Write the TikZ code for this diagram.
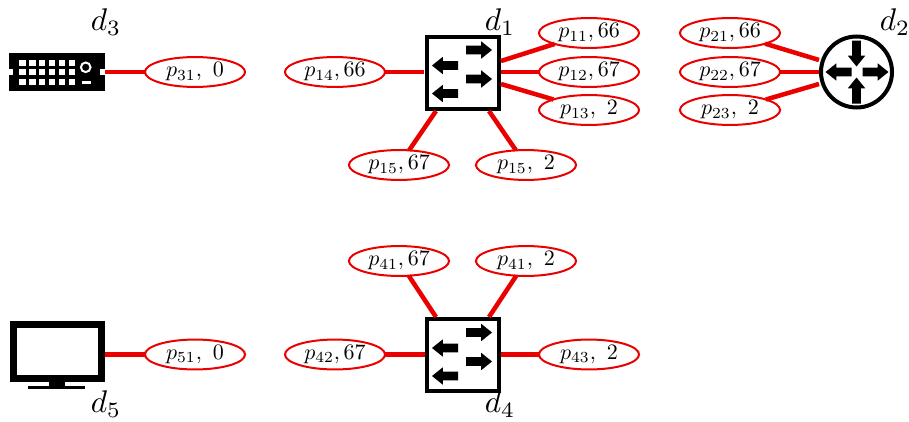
\documentclass[tikz,border=0pt]{standalone}
\usepackage{amsmath}
\usetikzlibrary{shapes.geometric}
\tikzset{blockarrow/.pic={\fill[black] (-13,-4.3)--(2.2,-4.3)--(2.2,-8.7)--(13,0)--(2.2,8.7)--(2.2,4.3)--(-13,4.3)--cycle;}}
\begin{document}
\begin{tikzpicture}[x=0.75pt,y=-0.75pt]
\tikzstyle{port}=[draw=red!92!black,line width=1.5pt,ellipse,inner sep=0pt,outer sep=0pt,scale=1.65,minimum width=45.5pt,minimum height=13.6pt]
\tikzstyle{link}=[draw=red!92!black,line width=3.4pt]
\tikzstyle{devlabel}=[inner sep=0pt,scale=2.35]
\tikzstyle{switchbox}=[draw,line width=3pt,minimum size=54pt,inner sep=0pt]
\useasboundingbox (0,0) rectangle (909,421);
% devices
\node[fill=black,inner sep=0pt,minimum width=72pt,minimum height=28.5pt] (d3) at (57,72) {};
\node[draw,line width=5.2pt,inner sep=0pt,minimum width=66pt,minimum height=40.5pt] (d5) at (57.2,351.5) {};
\node[switchbox] (sw1) at (462.5,72.5) {};
\node[switchbox] (sw4) at (462.5,354.5) {};
\node[draw,circle,line width=3pt,minimum size=53.25pt,inner sep=0pt] (rt2) at (856.5,72) {};
% ports
\node[port] (p31) at (195,72) {$p_{31},\ 0$};
\node[port] (p14) at (335,72) {$p_{14},66$};
\node[port] (p11) at (589,33) {$p_{11},66$};
\node[port] (p12) at (589,72) {$p_{12},67$};
\node[port] (p13) at (589,110) {$p_{13},\ 2$};
\node[port] (p15) at (399,165) {$p_{15},67$};
\node[port] (p16) at (526,165) {$p_{15},\ 2$};
\node[port] (p21) at (730,33) {$p_{21},66$};
\node[port] (p22) at (730,72) {$p_{22},67$};
\node[port] (p23) at (730,110) {$p_{23},\ 2$};
\node[port] (p41) at (399,261) {$p_{41},67$};
\node[port] (p44) at (526,261) {$p_{41},\ 2$};
\node[port] (p42) at (335,354.5) {$p_{42},67$};
\node[port] (p43) at (589,354.5) {$p_{43},\ 2$};
\node[port] (p51) at (195,354.5) {$p_{51},\ 0$};
% labels
\node[devlabel] (l3) at (106,22) {$d_3$};
\node[devlabel] (l1) at (500,22) {$d_1$};
\node[devlabel] (l2) at (895,22) {$d_2$};
\node[devlabel] (l5) at (106,404) {$d_5$};
\node[devlabel] (l4) at (500,404) {$d_4$};
% free ends on the boxes
\coordinate (a1) at (501,61);
\coordinate (a2) at (501,84);
\coordinate (a3) at (436,111);
\coordinate (a4) at (489,111);
\coordinate (b1) at (819,60);
\coordinate (b2) at (819,84);
\coordinate (c1) at (436,317);
\coordinate (c2) at (489,317);
\coordinate (e1) at (105,354.5);
\coordinate (f1) at (424,72);
\coordinate (f2) at (501,72);
\foreach \a/\b in {d3/p31,f1/p14,f2/p12,rt2/p22,e1/p51,sw4/p42,sw4/p43,a1/p11,a2/p13,a3/p15,a4/p16,b1/p21,b2/p23,c1/p41,c2/p44}
	\draw[link] (\a) -- (\b);
% d3 holes
\foreach \x in {19.3,29.2,39.1,49,58.9,68.8}
	\foreach \y in {60,69.3,78.5}
		\fill[white] (\x,\y) rectangle ++(6.3,6);
\fill[white] (9,69) rectangle (13,75);
\fill[white] (100,69) rectangle (105,75);
\draw[white,line width=1.5pt] (85.7,67.3) circle (4.8);
\fill[white] (82,81) rectangle (90.7,84);
% d5 stand
\fill[black] (48.7,382) rectangle (65.3,387);
\fill[black] (28.3,386) rectangle (85,389.3);
% switch arrows
\foreach \s in {72,354.5}{
	\path (479,\s-22) pic {blockarrow};
	\path (479,\s+7) pic {blockarrow};
	\path (445,\s-6.5) pic[rotate=180] {blockarrow};
	\path (445,\s+21.5) pic[rotate=180] {blockarrow};
}
% router arrows
\path (875.5,72) pic {blockarrow};
\path (838.5,72) pic[rotate=180] {blockarrow};
\path (856.5,53.5) pic[rotate=-90] {blockarrow};
\path (856.5,90.5) pic[rotate=90] {blockarrow};
\end{tikzpicture}
\end{document}
